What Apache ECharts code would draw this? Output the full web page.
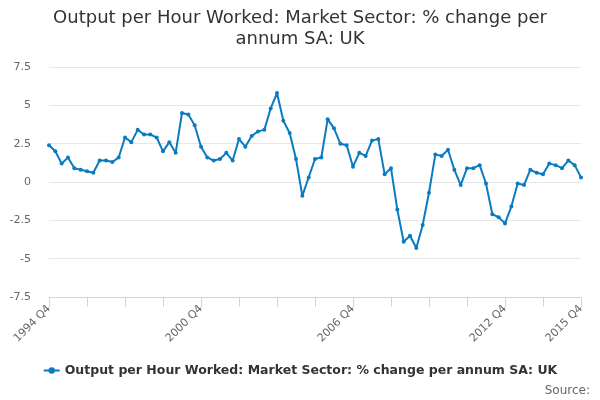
<!DOCTYPE html>
<html>
<head>
<meta charset="utf-8">
<script src="https://cdn.jsdelivr.net/npm/echarts@6/dist/echarts.min.js"></script>
<style>html,body{margin:0;padding:0;background:#fff}#c{width:600px;height:400px}</style>
</head>
<body>
<div id="c"></div>
<script>
var titleText = 'Output per Hour Worked: Market Sector: % change per\nannum SA: UK';
var seriesName = 'Output per Hour Worked: Market Sector: % change per annum SA: UK';
var startYear = 1994, endYear = 2015;
var categories = [];
categories.push(startYear + ' Q4');
for (var y = startYear + 1; y <= endYear; y++) {
  for (var q = 1; q <= 4; q++) categories.push(y + ' Q' + q);
}
var values = [
  2.4, 2.0, 1.2, 1.6, 0.9, 0.8, 0.7, 0.6, 1.4, 1.4, 1.3, 1.6,
  2.9, 2.6, 3.4, 3.1, 3.1, 2.9, 2.0, 2.6, 1.9, 4.5, 4.4, 3.7,
  2.3, 1.6, 1.4, 1.5, 1.9, 1.4, 2.8, 2.3, 3.0, 3.3, 3.4, 4.8,
  5.8, 4.0, 3.2, 1.5, -0.9, 0.3, 1.5, 1.6, 4.1, 3.5, 2.5, 2.4,
  1.0, 1.9, 1.7, 2.7, 2.8, 0.5, 0.9, -1.8, -3.9, -3.5, -4.3, -2.8,
  -0.7, 1.8, 1.7, 2.1, 0.8, -0.2, 0.9, 0.9, 1.1, -0.1, -2.1, -2.3,
  -2.7, -1.6, -0.1, -0.2, 0.8, 0.6, 0.5, 1.2, 1.1, 0.9, 1.4, 1.1,
  0.3
];
var yMin = -7.5, yMax = 7.5, yStep = 2.5;
var labelEvery = 24, tickEvery = 6;

var chart = echarts.init(document.getElementById('c'));
chart.setOption({
  animation: false,
  textStyle: { fontFamily: 'DejaVu Sans' },
  title: {
    text: titleText,
    left: 'center',
    top: 3,
    textStyle: { fontFamily: 'DejaVu Sans', fontSize: 18, fontWeight: 'normal', color: '#333', lineHeight: 21 }
  },
  graphic: [{
    type: 'text', right: 10, bottom: 3,
    style: { text: 'Source:', fontFamily: 'DejaVu Sans', fontSize: 12, fill: '#666' }
  }],
  legend: {
    bottom: 18,
    left: 'center',
    itemWidth: 16,
    itemHeight: 8,
    itemGap: 6,
    data: [seriesName],
    textStyle: { fontFamily: 'DejaVu Sans', fontSize: 12.5, fontWeight: 'bold', color: '#333' }
  },
  grid: { left: 49, right: 19, top: 67, bottom: 103, containLabel: false },
  xAxis: {
    type: 'category',
    data: categories,
    boundaryGap: false,
    axisLine: { show: true, onZero: false, lineStyle: { color: '#ccd6eb', width: 1 } },
    axisTick: { show: true, interval: tickEvery - 1, length: 10, lineStyle: { color: '#ccd6eb' } },
    axisLabel: {
      rotate: 45,
      margin: 10,
      color: '#666',
      fontSize: 11,
      fontFamily: 'DejaVu Sans',
      interval: function (i) { return i % labelEvery === 0 || i === categories.length - 1; }
    },
    splitLine: { show: false }
  },
  yAxis: {
    type: 'value',
    min: yMin, max: yMax, interval: yStep,
    axisLine: { show: false },
    axisTick: { show: false },
    axisLabel: { color: '#666', fontSize: 11, margin: 18, fontFamily: 'DejaVu Sans' },
    splitLine: { lineStyle: { color: '#e6e6e6', width: 1 } }
  },
  series: [{
    name: seriesName,
    type: 'line',
    data: values,
    symbol: 'circle',
    symbolSize: 4,
    showAllSymbol: true,
    lineStyle: { color: '#0a7bc1', width: 2 },
    itemStyle: { color: '#0a7bc1' }
  }]
});
</script>
</body>
</html>
